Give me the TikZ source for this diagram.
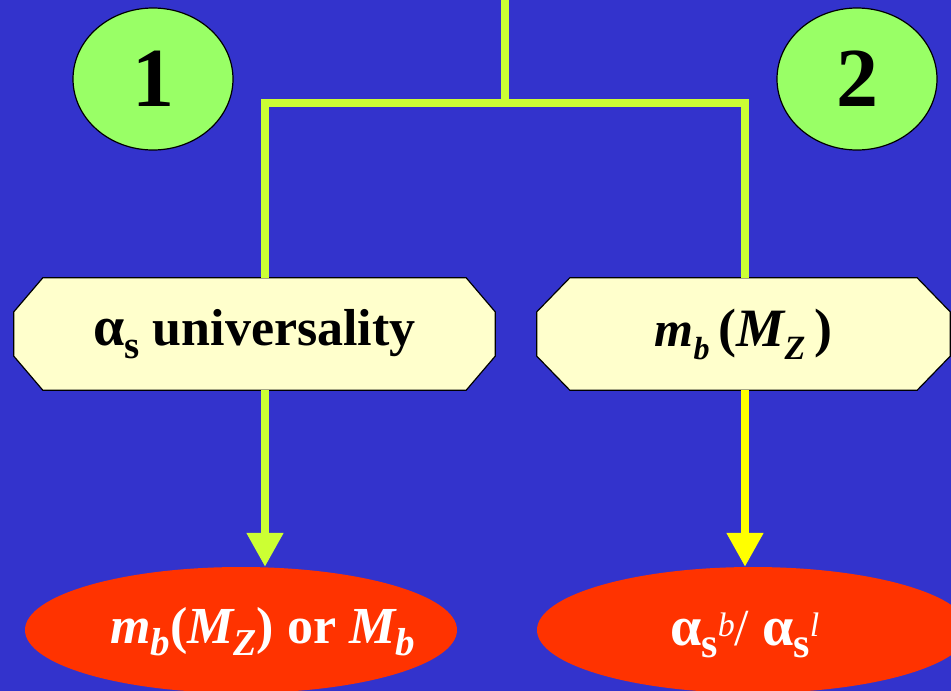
\documentclass[tikz,border=0pt]{standalone}
\usepackage{fontspec}
\setmainfont{Liberation Serif}
\usetikzlibrary{arrows.meta,shapes.geometric}
\definecolor{bgblue}{HTML}{3333CC}
\definecolor{lime}{HTML}{CCFF33}
\definecolor{yel}{HTML}{FFFF00}
\definecolor{grn}{HTML}{99FF66}
\definecolor{cream}{HTML}{FFFFCC}
\definecolor{ored}{HTML}{FF3300}
\pgfdeclarelayer{back}
\pgfsetlayers{back,main}
\newcommand\mysub[2][36]{\raisebox{-0.24em}{\fontsize{#1}{#1}\selectfont #2}}
\newcommand\mysup[2]{\raisebox{9pt}{\fontsize{#1}{#1}\selectfont #2}}
\newcommand\alp{{\fontsize{56}{60}\selectfont\bfseries\upshape α}}
\newcommand\chamferbox[3]{%
  \draw[octo] ([xshift=#2pt]#1.north west) -- ([xshift=-#2pt]#1.north east)
    -- ([yshift=-#3pt]#1.north east) -- ([yshift=#3pt]#1.south east)
    -- ([xshift=-#2pt]#1.south east) -- ([xshift=#2pt]#1.south west)
    -- ([yshift=#3pt]#1.south west) -- ([yshift=-#3pt]#1.north west) -- cycle;}
\tikzset{
  num/.style={ellipse, draw=black, line width=1.2pt, fill=grn, minimum width=160pt, minimum height=142pt, inner sep=0pt, font=\fontsize{84}{84}\selectfont\bfseries},
  chbox/.style={rectangle, minimum height=112pt, inner sep=0pt, font=\fontsize{52}{60}\selectfont\bfseries},
  octo/.style={draw=black, line width=1.2pt, fill=cream, line join=miter},
  oval/.style={ellipse, fill=ored, minimum width=432pt, minimum height=126pt, inner sep=0pt},
  otext/.style={text=white, inner sep=0pt, anchor=base west, font=\fontsize{52}{60}\selectfont},
  conn/.style={draw=lime, line width=8pt},
  arr/.style={-{Triangle[width=35pt,length=34pt]}}
}
\begin{document}
\begin{tikzpicture}[x=1pt,y=-1pt]
\useasboundingbox (0,0) rectangle (951,691);
% numbered circles
\node[num] (n1) at (153,79) {1};
\node[num] (n2) at (857,79) {2};
% boxes
\node[chbox, minimum width=481pt] (b1) at (254.5,334) {\alp\mysub[39]{s} universality};
\node[chbox, minimum width=413pt] (b2) at (743.5,334) {\fontsize{54}{60}\selectfont{\itshape{\fontsize{50}{52}\selectfont m}\mysub[32]{b}}\,({\itshape M\mysub[34]{Z}}\,)};
\begin{pgfonlayer}{back}
\fill[bgblue] (0,0) rectangle (951,691);
\chamferbox{b1}{29}{34}
\chamferbox{b2}{33}{34}
\end{pgfonlayer}
% result ovals
\node[oval] (e1) at (241,630) {};
\node[oval] (e2) at (753,630) {};
\node[otext] (t1) at (110,643) {{\bfseries\itshape m\mysub[39]{b}}{\bfseries(}{\bfseries\itshape M\mysub[38]{Z}}{\bfseries) or }{\bfseries\itshape M\mysub[39]{b}}};
\node[otext] (t2) at (670,645) {\alp\mysub[42]{\bfseries s}\mysup{34}{\itshape b}/ \alp\mysub[42]{\bfseries s}\mysup{34}{\itshape l}};
% connectors
\coordinate (top) at (505,0);
\coordinate (j) at (505,103);
\coordinate (jl) at (265,103);
\coordinate (jr) at (745,103);
\draw[conn] (top) -- (j);
\draw[conn] (jl |- b1.north) -- (jl) -- (jr) -- (jr |- b2.north);
\draw[conn, arr] (jl |- b1.south) -- (jl |- e1.north);
\draw[conn, draw=yel, fill=yel, arr] (jr |- b2.south) -- (jr |- e2.north);
\end{tikzpicture}
\end{document}
